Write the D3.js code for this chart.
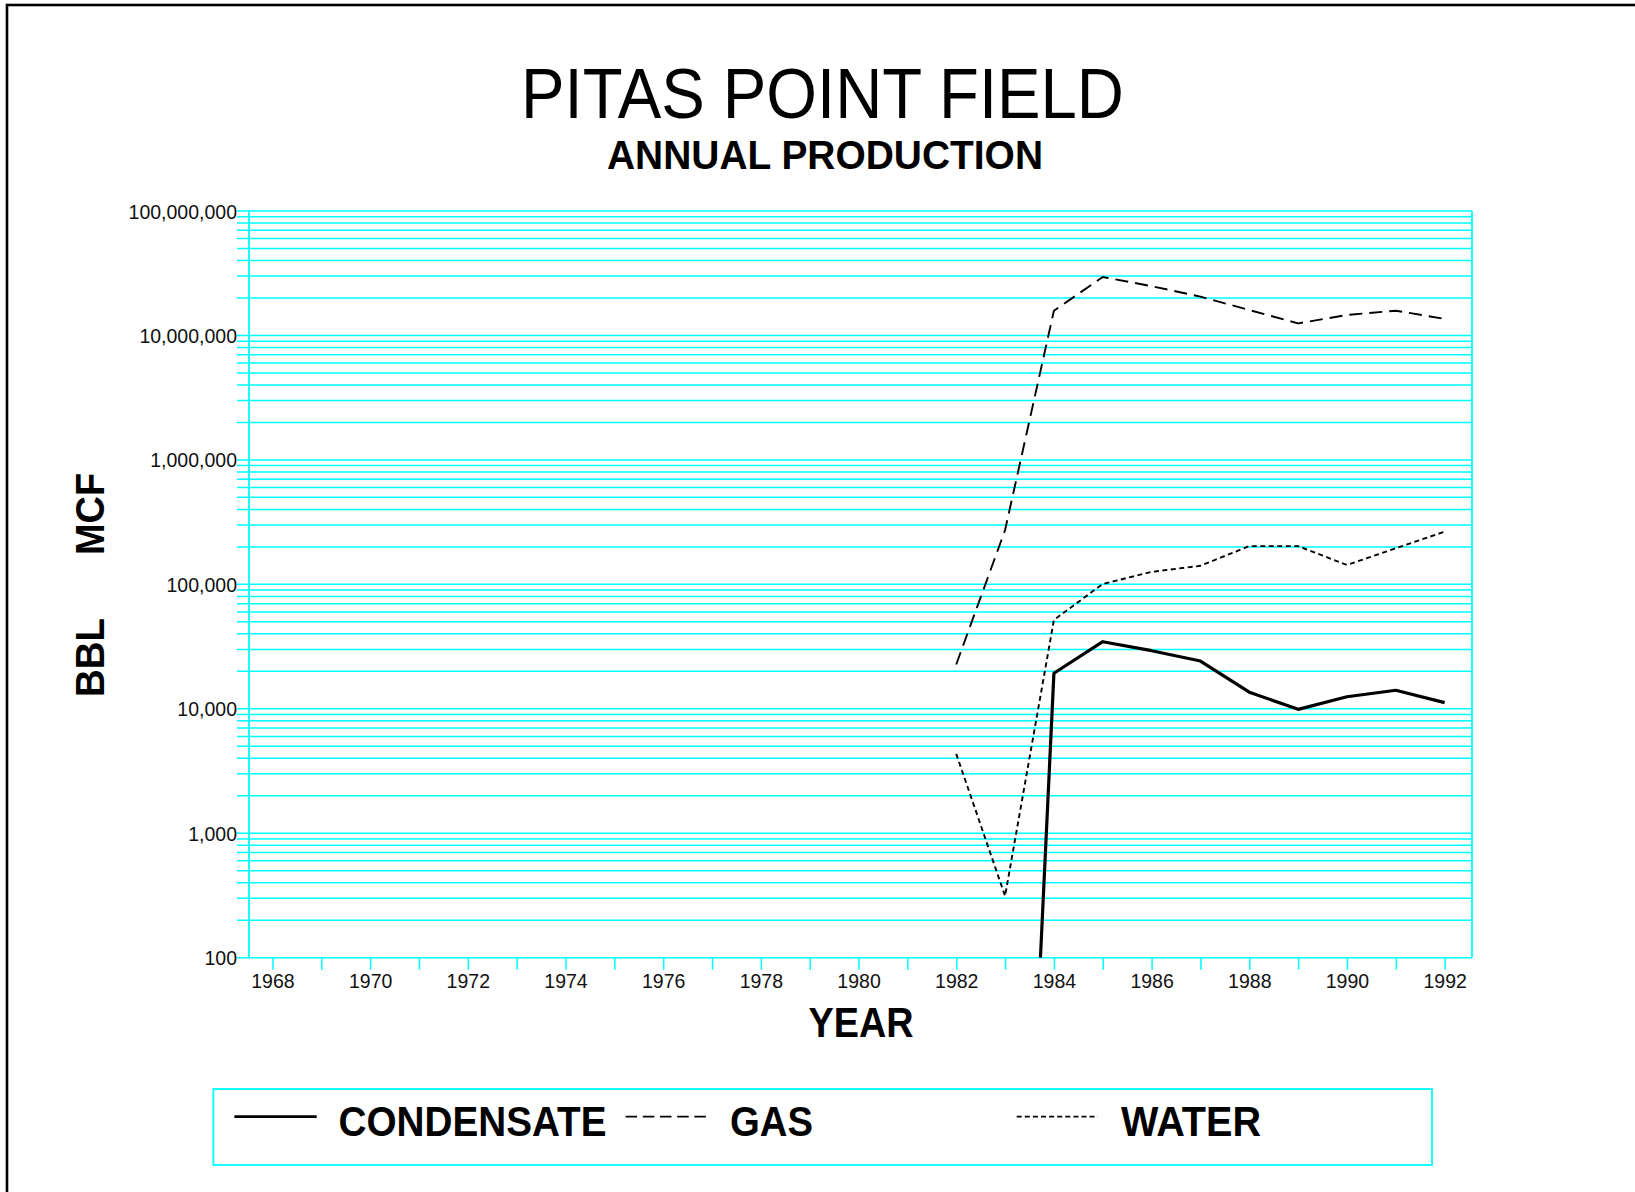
<!DOCTYPE html>
<html>
<head>
<meta charset="utf-8">
<script src="https://cdn.jsdelivr.net/npm/d3@7"></script>
<style>
  html, body { margin: 0; padding: 0; background: #fff; }
  svg { display: block; font-family: "Liberation Sans", Arial, sans-serif; }
</style>
</head>
<body>
<svg id="chart" width="1635" height="1192"></svg>
<script>
// ---- data ----
const years = [1982, 1983, 1984, 1985, 1986, 1987, 1988, 1989, 1990, 1991, 1992];
const condensate = [null, 0, 19300, 34600, 29300, 24200, 13600, 9900, 12500, 14100, 11200];
const gas = [22700, 273000, 15800000, 29500000, 24900000, 20500000, 16000000, 12500000, 14600000, 15800000, 13600000];
const water = [4340, 313, 51800, 100700, 126000, 141000, 203000, 203000, 143000, 195000, 265000];
const yearTicks = d3.range(1968, 1993);
const yearLabels = d3.range(1968, 1993, 2);
const decadeTicks = [100, 1000, 10000, 100000, 1000000, 10000000, 100000000];
const seriesNames = ["CONDENSATE", "GAS", "WATER"];

// ---- setup ----
const svg = d3.select("#chart");
const GRID = "#00ffff";
const FLOOR = 1e-4; // zero production drawn at a floor below the axis

const x = d3.scaleLinear().domain([1967.52, 1992.56]).range([249, 1472]);
const y = d3.scaleLog().domain([100, 1e8]).range([957.7, 211]);

// outer border
svg.append("rect").attr("x", 7).attr("y", 5).attr("width", 1700).attr("height", 1300)
  .attr("fill", "none").attr("stroke", "#000").attr("stroke-width", 2.6);

// title
svg.append("text").attr("x", 822.5).attr("y", 118).attr("text-anchor", "middle")
  .attr("font-size", 70).attr("textLength", 603).attr("lengthAdjust", "spacingAndGlyphs")
  .text("PITAS POINT FIELD");
svg.append("text").attr("x", 825).attr("y", 169).attr("text-anchor", "middle")
  .attr("font-size", 40).attr("font-weight", "bold").attr("textLength", 436).attr("lengthAdjust", "spacingAndGlyphs")
  .text("ANNUAL PRODUCTION");

// grid lines (horizontal, log)
const gridVals = [];
decadeTicks.slice(0, -1).forEach(d => { for (let m = 1; m <= 9; m++) gridVals.push(m * d); });
gridVals.push(1e8);
const [x0, x1] = x.range();
const [yb, yt] = y.range();
svg.append("g").selectAll("line").data(gridVals).join("line")
  .attr("x1", 237).attr("x2", x1)
  .attr("y1", d => y(d)).attr("y2", d => y(d))
  .attr("stroke", GRID).attr("stroke-width", 1.5);

// frame verticals
svg.append("line").attr("x1", x0).attr("x2", x0).attr("y1", yt).attr("y2", yb)
  .attr("stroke", GRID).attr("stroke-width", 1.8);
svg.append("line").attr("x1", x1).attr("x2", x1).attr("y1", yt).attr("y2", yb)
  .attr("stroke", GRID).attr("stroke-width", 1.8);

// x axis
const xAxis = d3.axisBottom(x).tickValues(yearTicks).tickSize(12).tickPadding(5)
  .tickFormat(d => yearLabels.includes(d) ? String(d) : "");
const gx = svg.append("g").attr("transform", `translate(0,${yb})`).call(xAxis);
gx.select(".domain").remove();
gx.selectAll(".tick line").attr("stroke", GRID).attr("stroke-width", 1.5);
gx.selectAll(".tick text").attr("font-size", 19.5).attr("fill", "#111")
  .attr("font-family", "Liberation Sans, Arial, sans-serif").attr("dy", 0).attr("y", 30.5);

// y axis labels
const gy = svg.append("g").attr("transform", `translate(237,0)`)
  .call(d3.axisLeft(y).tickValues(decadeTicks).tickSize(0).tickPadding(0).tickFormat(d3.format(",")));
gy.select(".domain").remove();
gy.selectAll(".tick text").attr("font-size", 19.5).attr("fill", "#111")
  .attr("font-family", "Liberation Sans, Arial, sans-serif").attr("dy", "0.36em");

// axis titles
svg.append("text").attr("x", 861).attr("y", 1036.5).attr("text-anchor", "middle")
  .attr("font-size", 42).attr("font-weight", "bold").attr("textLength", 105).attr("lengthAdjust", "spacingAndGlyphs")
  .text("YEAR");
svg.append("text").attr("transform", "translate(104,514) rotate(-90)").attr("text-anchor", "middle")
  .attr("font-size", 40).attr("font-weight", "bold").attr("textLength", 82).attr("lengthAdjust", "spacingAndGlyphs")
  .text("MCF");
svg.append("text").attr("transform", "translate(104,657.5) rotate(-90)").attr("text-anchor", "middle")
  .attr("font-size", 40).attr("font-weight", "bold").attr("textLength", 79).attr("lengthAdjust", "spacingAndGlyphs")
  .text("BBL");

// clip
svg.append("clipPath").attr("id", "plotclip").append("rect")
  .attr("x", x0).attr("y", yt).attr("width", x1 - x0).attr("height", yb - yt);

const styles = [
  { data: condensate, width: 3.2, dash: null },
  { data: gas, width: 1.9, dash: "13,7" },
  { data: water, width: 1.9, dash: "5,3.5" }
];
const line = d3.line()
  .defined(d => d[1] !== null)
  .x(d => x(d[0]))
  .y(d => y(d[1] <= 0 ? FLOOR : d[1]));

const lines = svg.append("g").attr("clip-path", "url(#plotclip)");
styles.forEach(s => {
  lines.append("path").datum(years.map((yr, i) => [yr, s.data[i]]))
    .attr("d", line).attr("fill", "none").attr("stroke", "#000")
    .attr("stroke-width", s.width).attr("stroke-dasharray", s.dash)
    .attr("stroke-linejoin", "round");
});

// legend
svg.append("rect").attr("x", 213.4).attr("y", 1089).attr("width", 1218.6).attr("height", 76)
  .attr("fill", "none").attr("stroke", GRID).attr("stroke-width", 1.8);
const legendItems = [
  { name: seriesNames[0], lx: 234.4, lw: 82.3, tx: 338.5, tw: 268, width: 2.8, dash: null },
  { name: seriesNames[1], lx: 625.6, lw: 80.4, tx: 730, tw: 83, width: 1.7, dash: "11.5,5.7" },
  { name: seriesNames[2], lx: 1016.7, lw: 81.2, tx: 1121, tw: 140, width: 1.7, dash: "5,3.1" }
];
legendItems.forEach(it => {
  svg.append("line").attr("x1", it.lx).attr("x2", it.lx + it.lw).attr("y1", 1116.7).attr("y2", 1116.7)
    .attr("stroke", "#000").attr("stroke-width", it.width).attr("stroke-dasharray", it.dash);
  svg.append("text").attr("x", it.tx).attr("y", 1135.7)
    .attr("font-size", 43).attr("font-weight", "bold").attr("textLength", it.tw).attr("lengthAdjust", "spacingAndGlyphs")
    .text(it.name);
});
</script>
</body>
</html>
